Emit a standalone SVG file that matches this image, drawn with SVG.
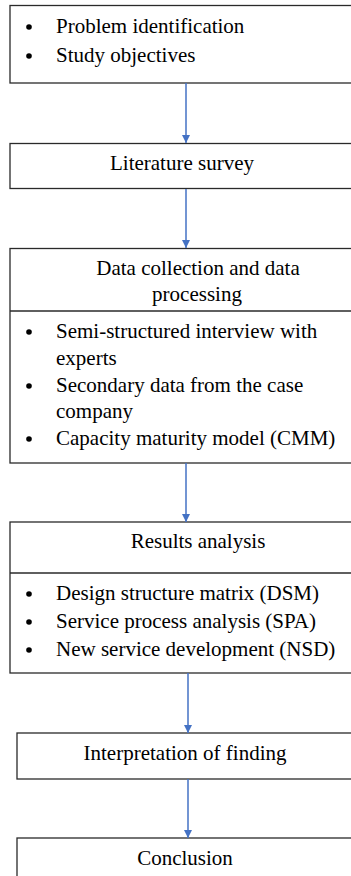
<svg xmlns="http://www.w3.org/2000/svg" width="351" height="876" viewBox="0 0 351 876">
<style>
.box{fill:#fff;stroke:#2a2a2a;stroke-width:1.3}
.div{stroke:#2a2a2a;stroke-width:1.3}
.t{font-family:"Liberation Serif","Times New Roman",serif;font-size:21px;fill:#000}
.c{text-anchor:middle}
.conn{stroke:#4472C4;stroke-width:1.5;fill:none}
</style>
<defs>
<marker id="ah" markerWidth="8" markerHeight="8" refX="8" refY="4" orient="auto" markerUnits="userSpaceOnUse">
<path d="M0,0 L8,4 L0,8 Z" fill="#4472C4"/>
</marker>
</defs>
<g id="n1">
<rect class="box" x="10" y="5.5" width="350" height="77.5"/>
<circle cx="29" cy="27" r="2.8"/>
<text class="t" x="56" y="33">Problem identification</text>
<circle cx="29" cy="56" r="2.8"/>
<text class="t" x="56" y="62">Study objectives</text>
</g>
<g id="n2">
<rect class="box" x="10" y="143.5" width="350" height="45"/>
<text class="t c" x="182" y="170">Literature survey</text>
</g>
<g id="n3">
<rect class="box" x="10" y="248.5" width="350" height="214.5"/>
<line class="div" x1="10" y1="311" x2="360" y2="311"/>
<text class="t c" x="198" y="275">Data collection and data</text>
<text class="t c" x="197" y="301">processing</text>
<circle cx="29" cy="332" r="2.8"/>
<text class="t" x="56" y="338">Semi-structured interview with</text>
<text class="t" x="56" y="365">experts</text>
<circle cx="29" cy="386" r="2.8"/>
<text class="t" x="56" y="392">Secondary data from the case</text>
<text class="t" x="56" y="418">company</text>
<circle cx="29" cy="439" r="2.8"/>
<text class="t" x="56" y="445">Capacity maturity model (CMM)</text>
</g>
<g id="n4">
<rect class="box" x="10" y="522" width="350" height="151"/>
<line class="div" x1="10" y1="573" x2="360" y2="573"/>
<text class="t c" x="198" y="548">Results analysis</text>
<circle cx="29" cy="594" r="2.8"/>
<text class="t" x="56" y="600">Design structure matrix (DSM)</text>
<circle cx="29" cy="622" r="2.8"/>
<text class="t" x="56" y="628">Service process analysis (SPA)</text>
<circle cx="29" cy="650" r="2.8"/>
<text class="t" x="56" y="656">New service development (NSD)</text>
</g>
<g id="n5">
<rect class="box" x="17" y="733" width="343" height="46"/>
<text class="t c" x="185" y="760">Interpretation of finding</text>
</g>
<g id="n6">
<rect class="box" x="17" y="838" width="343" height="50"/>
<text class="t c" x="185" y="865">Conclusion</text>
</g>
<g id="connectors">
<line class="conn" x1="186" y1="83" x2="186" y2="143" marker-end="url(#ah)"/>
<line class="conn" x1="186" y1="189" x2="186" y2="248" marker-end="url(#ah)"/>
<line class="conn" x1="186" y1="463" x2="186" y2="522" marker-end="url(#ah)"/>
<line class="conn" x1="188" y1="673" x2="188" y2="733" marker-end="url(#ah)"/>
<line class="conn" x1="188" y1="779" x2="188" y2="838" marker-end="url(#ah)"/>
</g>
</svg>
